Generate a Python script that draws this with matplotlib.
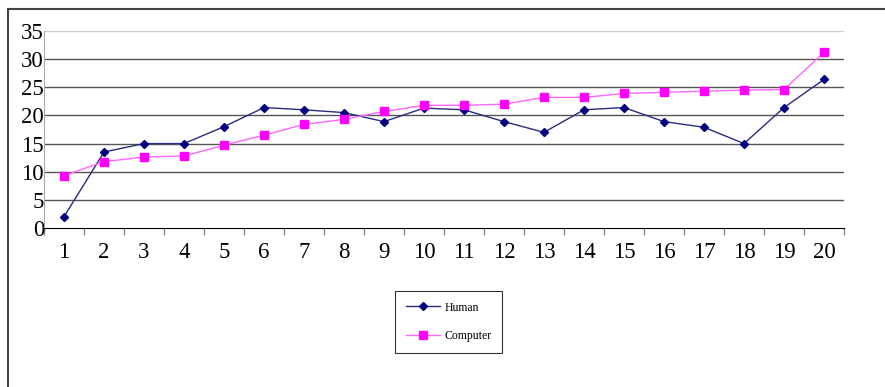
import matplotlib
matplotlib.use("Agg")
import matplotlib.pyplot as plt
from matplotlib.lines import Line2D
import numpy as np

# data
rounds = list(range(1, 21))
human = [2, 13.5, 15, 15, 18, 21.4, 21, 20.5, 18.9, 21.3,
         21, 18.9, 17, 21, 21.4, 18.9, 17.9, 15, 21.4, 26.4]
computer = [9.3, 11.8, 12.6, 12.8, 14.7, 16.5, 18.4, 19.3, 20.7, 21.8,
            21.8, 22, 23.2, 23.2, 23.9, 24.1, 24.3, 24.5, 24.6, 31.2]
y_ticks = [0, 5, 10, 15, 20, 25, 30, 35]

W, H = 885, 387
fig = plt.figure(figsize=(W / 100, H / 100), dpi=100)
plt.rcParams["font.family"] = ["Liberation Serif", "DejaVu Serif"]

# plot area in pixel terms
left, right, top, bottom = 44, 844, 31, 228
ax = fig.add_axes([left / W, 1 - bottom / H, (right - left) / W, (bottom - top) / H])

x = np.arange(len(rounds))
ax.plot(x, human, color="#2a2a80", lw=1.0, marker="D", ms=4.5,
        mfc="#000080", mec="#000080", label="Human", zorder=3)
ax.plot(x, computer, color="#ff66ff", lw=1.0, marker="s", ms=6,
        mfc="#ff00ff", mec="#ff00ff", label="Computer", zorder=3)

ax.set_xlim(-0.5, len(rounds) - 0.5)
ax.set_ylim(0, 35)

# horizontal gridlines
for v in y_ticks[1:]:
    c = "#cccccc" if v == 35 else "#555555"
    ax.axhline(v, color=c, lw=1.0, zorder=1)

ax.set_yticks(y_ticks)
ax.set_yticklabels([str(v) for v in y_ticks], fontsize=16.5)
ax.tick_params(axis="y", length=0, pad=0)

# category labels centred, ticks at boundaries
ax.set_xticks(x)
ax.set_xticklabels([str(r) for r in rounds], fontsize=16.5)
ax.tick_params(axis="x", which="major", length=0, pad=10)
ax.set_xticks(np.arange(-0.5, len(rounds), 1), minor=True)
ax.tick_params(axis="x", which="minor", length=5, color="#888888", width=1)

for s in ["top", "right"]:
    ax.spines[s].set_visible(False)
ax.spines["left"].set_color("#aaaaaa")
ax.spines["bottom"].set_color("black")

leg = fig.legend(loc="upper left", bbox_to_anchor=(395 / W, 1 - 291 / H),
                 fontsize=8.5, frameon=True, fancybox=False, edgecolor="black",
                 handlelength=2.9, labelspacing=1.4, borderpad=0.9,
                 handletextpad=0.4, borderaxespad=0)
leg.get_frame().set_linewidth(0.8)
leg.get_frame().set_width(115)

# outer frame (top and left edges visible)
fig.add_artist(Line2D([8 / W, 1], [1 - 9 / H, 1 - 9 / H], color="#444444", lw=1.5))
fig.add_artist(Line2D([8 / W, 8 / W], [0, 1 - 9 / H], color="#444444", lw=1.5))

fig.savefig("out.png", dpi=100)
